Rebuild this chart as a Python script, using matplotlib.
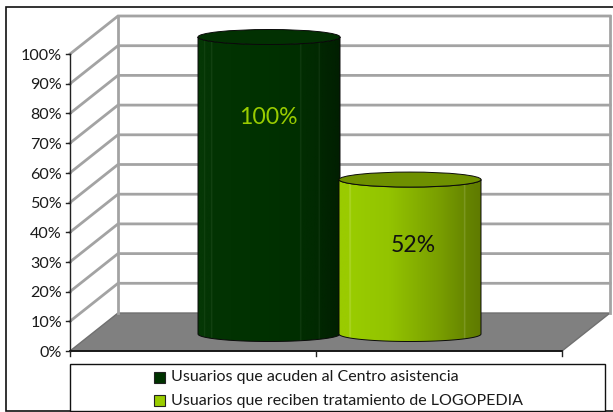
import numpy as np
import matplotlib.pyplot as plt
from matplotlib.colors import LinearSegmentedColormap
from matplotlib.patches import Ellipse, Polygon, Rectangle

series = ["Usuarios que acuden al Centro asistencia", "Usuarios que reciben tratamiento de LOGOPEDIA"]
values = [100, 52]
labels = ["100%", "52%"]
ticks = [0, 10, 20, 30, 40, 50, 60, 70, 80, 90, 100]

plt.rcParams['font.family'] = ['Lato', 'DejaVu Sans']

W, H = 613, 412
fig = plt.figure(figsize=(W / 100, H / 100), dpi=100)
ax = fig.add_axes([0, 0, 1, 1])
ax.axis('off')

# x is in pixels, y is in percent on the front plane
PX = 2.97
Y0 = 351
ylim = ((Y0 - H) / PX, Y0 / PX)
dx, dy = 48, 38 / PX
x_front, x_end = 70, 562


def py(p):
    return (Y0 - p) / PX


# outer frame and floor
ax.add_patch(Rectangle((6, py(411)), 640, py(7) - py(411), fc='white', ec='#111111', lw=1.2, zorder=0))
ax.add_patch(Polygon([(x_front, 0), (x_front + dx, dy), (x_end + dx, dy), (x_end, 0)],
                     fc='#808080', ec='#707070', lw=1, zorder=1))

# walls
for t in ticks[1:]:
    ax.plot([x_front, x_front + dx, x_end + dx], [t, t + dy, t + dy], color='#a3a3a3', lw=2, zorder=1,
            solid_joinstyle='miter')
ax.plot([x_front + dx, x_front + dx], [dy, 100 + dy], color='#a3a3a3', lw=2, zorder=1)
ax.plot([x_end + dx, x_end + dx], [dy, 100 + dy], color='#a3a3a3', lw=2, zorder=1)

# axes lines
ax.plot([x_front, x_front], [0, 100], color='#222222', lw=1, zorder=2)
ax.plot([x_front, x_end], [0, 0], color='#111111', lw=1.3, zorder=2)
for t in ticks:
    ax.plot([x_front - 4, x_front], [t, t], color='#222222', lw=1, zorder=2)
    ax.text(x_front - 8, t - 0.6, f"{t}%", ha='right', va='center', fontsize=11.6, color='#1a1a1a')
for x in [x_front, 316, x_end]:
    ax.plot([x, x], [0, py(356)], color='#222222', lw=1, zorder=2)

# cylinders, with the faint vertical streaks near the sides
cmaps = [
    LinearSegmentedColormap.from_list('dark', [
        (0, '#053705'), (0.04, '#053705'), (0.045, '#1c4a1a'), (0.05, '#043504'), (0.09, '#043504'),
        (0.095, '#1f4c1d'), (0.1, '#033403'), (0.5, '#003100'), (0.72, '#012e01'), (0.725, '#1b441a'),
        (0.73, '#012d01'), (0.85, '#012901'), (0.855, '#173c16'), (0.86, '#012701'), (1, '#011f01')]),
    LinearSegmentedColormap.from_list('lime', [
        (0, '#9acb00'), (0.07, '#9acb00'), (0.075, '#b3d83a'), (0.085, '#99cc00'), (0.35, '#93c400'),
        (0.7, '#7a9f00'), (0.88, '#688800'), (0.885, '#86a030'), (0.895, '#668500'), (1, '#5f7a00')]),
]
top_colors = ['#023102', '#6e9000']
left = [198, 339]
width = 142
base_y = 17 / PX
half_h = 7.5 / PX
text_colors = ['#99cc00', '#111111']
label_x = [268.5, 413]
label_y = [py(118), py(246)]
grad = np.linspace(0, 1, 512).reshape(1, -1)

for i, v in enumerate(values):
    x0 = left[i]
    cx = x0 + width / 2
    top = base_y + v
    t = np.linspace(0, np.pi, 60)
    bottom_arc = np.column_stack([cx - width / 2 * np.cos(t), base_y - half_h * np.sin(t)])
    top_arc = np.column_stack([cx + width / 2 * np.cos(t), top - half_h * np.sin(t)])
    body = Polygon(np.vstack([bottom_arc, top_arc]), closed=True, fc='none', ec='#0a0a0a', lw=0.7, zorder=5 + i)
    ax.add_patch(body)
    im = ax.imshow(grad, extent=[x0, x0 + width, base_y - half_h, top], aspect='auto', cmap=cmaps[i],
                   zorder=4 + i)
    im.set_clip_path(body)
    ax.add_patch(Ellipse((cx, top), width, 2 * half_h, fc=top_colors[i], ec='#0a0a0a', lw=0.7, zorder=5 + i))
    ax.text(label_x[i], label_y[i], labels[i], ha='center', va='center', fontsize=16.6,
            color=text_colors[i], zorder=8)

# legend
ax.add_patch(Rectangle((70, py(411)), 535, py(364) - py(411), fc='white', ec='#111111', lw=1, zorder=3))
swatches = ['#003300', '#99cc00']
for i, name in enumerate(series):
    yc = 377.5 + 23 * i
    ax.add_patch(Rectangle((154, py(yc + 5.5)), 11, 11 / PX, fc=swatches[i], ec='#222222', lw=0.8, zorder=4))
    ax.text(171, py(yc), name, ha='left', va='center', fontsize=11.5, color='#1a1a1a', zorder=4)

ax.set_xlim(0, W)
ax.set_ylim(*ylim)
fig.savefig('out.png', dpi=100)
